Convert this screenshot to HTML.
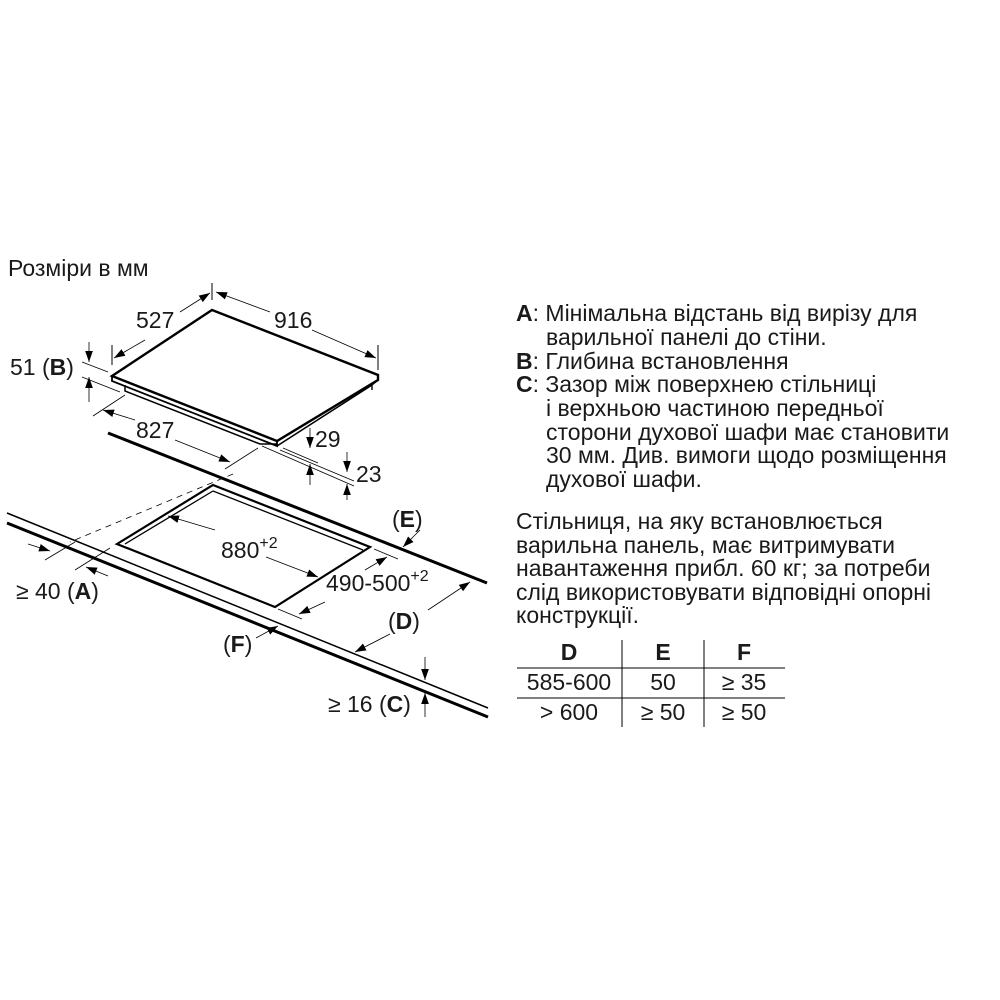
<!DOCTYPE html>
<html><head><meta charset="utf-8"><style>
body{margin:0;background:#fff;}
svg{display:block}
text{font-family:"Liberation Sans",sans-serif;fill:#1a1a1a}
</style></head><body>
<svg width="1000" height="1000" viewBox="0 0 1000 1000" xmlns="http://www.w3.org/2000/svg">
<defs>
<marker id="a" viewBox="0 0 10 10" refX="10" refY="5" markerWidth="11" markerHeight="11" orient="auto-start-reverse" markerUnits="userSpaceOnUse"><path d="M0,1.5 L10,5 L0,8.5 z" fill="#000"/></marker>
</defs>
<g stroke="#000" fill="none">
<path d="M212,310 L378,375 L378,380 L277,441 L112,376 Z" stroke-width="2.4" fill="#fff"/>
<path d="M112,376 L112,381 L277,446 L277,441" stroke-width="1.8"/>
<path d="M277,446 L372,385" stroke-width="1.6"/>
<path d="M125,385 L125,391 L260,444 L277,444" stroke-width="1.5"/>
<path d="M378,380 L372,385 L372,390" stroke-width="1.4"/>
<line x1="212" y1="283" x2="212" y2="300" stroke-width="1"/>
<line x1="112" y1="345" x2="112" y2="365" stroke-width="1"/>
<line x1="378" y1="345" x2="378" y2="370" stroke-width="1"/>
<line x1="180" y1="312" x2="210" y2="293" stroke-width="0.8" marker-end="url(#a)"/>
<line x1="145" y1="340" x2="114" y2="358" stroke-width="0.8" marker-end="url(#a)"/>
<line x1="270" y1="312" x2="216" y2="292" stroke-width="0.8" marker-end="url(#a)"/>
<line x1="312" y1="330" x2="376" y2="358" stroke-width="0.8" marker-end="url(#a)"/>
<line x1="82" y1="362" x2="108" y2="372" stroke-width="0.8"/>
<line x1="82" y1="377" x2="120" y2="392" stroke-width="0.8"/>
<line x1="89" y1="342" x2="89" y2="362" stroke-width="0.8" marker-end="url(#a)"/>
<line x1="89" y1="402" x2="89" y2="377" stroke-width="0.8" marker-end="url(#a)"/>
<line x1="93" y1="416" x2="125" y2="395" stroke-width="0.8"/>
<line x1="225" y1="469" x2="258" y2="448" stroke-width="0.8"/>
<line x1="135" y1="420" x2="103" y2="410" stroke-width="0.8" marker-end="url(#a)"/>
<line x1="175" y1="440" x2="230" y2="462" stroke-width="0.8" marker-end="url(#a)"/>
<line x1="283" y1="448" x2="318" y2="463" stroke-width="0.8"/>
<line x1="262" y1="446" x2="354" y2="486" stroke-width="0.8"/>
<line x1="280" y1="450" x2="354" y2="481" stroke-width="0.8"/>
<line x1="310" y1="428" x2="310" y2="448" stroke-width="0.8" marker-end="url(#a)"/>
<line x1="310" y1="485" x2="310" y2="464" stroke-width="0.8" marker-end="url(#a)"/>
<line x1="347" y1="452" x2="347" y2="472" stroke-width="0.8" marker-end="url(#a)"/>
<line x1="347" y1="500" x2="347" y2="484" stroke-width="0.8" marker-end="url(#a)"/>
<line x1="108" y1="433" x2="487" y2="583" stroke-width="3"/>
<line x1="7" y1="513" x2="488" y2="708" stroke-width="1.5"/>
<line x1="7" y1="523" x2="488" y2="717" stroke-width="3"/>
<line x1="233" y1="474" x2="70" y2="542" stroke-width="0.8" stroke-dasharray="6,5"/>
<path d="M213,485 L370,547 L275,607 L117,544 Z" stroke-width="2.2"/>
<path d="M213,491 L125,544" stroke-width="1.3"/>
<path d="M213,491 L363,550" stroke-width="1.3"/>
<line x1="215" y1="530" x2="168" y2="516" stroke-width="0.8" marker-end="url(#a)"/>
<line x1="266" y1="557" x2="318" y2="577" stroke-width="0.8" marker-end="url(#a)"/>
<line x1="374" y1="549" x2="398" y2="559" stroke-width="0.8"/>
<line x1="278" y1="609" x2="302" y2="619" stroke-width="0.8"/>
<line x1="365" y1="570" x2="387" y2="557" stroke-width="0.8" marker-end="url(#a)"/>
<line x1="325" y1="602" x2="299" y2="614" stroke-width="0.8" marker-end="url(#a)"/>
<line x1="45" y1="560" x2="75" y2="542" stroke-width="0.8"/>
<line x1="75" y1="570" x2="110" y2="548" stroke-width="0.8"/>
<line x1="28" y1="544" x2="50" y2="551" stroke-width="0.8" marker-end="url(#a)"/>
<line x1="108" y1="576" x2="86" y2="567" stroke-width="0.8" marker-end="url(#a)"/>
<line x1="420" y1="530" x2="403" y2="547" stroke-width="0.8" marker-end="url(#a)"/>
<line x1="256" y1="638" x2="278" y2="626" stroke-width="0.8" marker-end="url(#a)"/>
<line x1="428" y1="610" x2="470" y2="582" stroke-width="0.8" marker-end="url(#a)"/>
<line x1="390" y1="634" x2="355" y2="652" stroke-width="0.8" marker-end="url(#a)"/>
<line x1="425" y1="657" x2="425" y2="680" stroke-width="0.8" marker-end="url(#a)"/>
<line x1="425" y1="717" x2="425" y2="693" stroke-width="0.8" marker-end="url(#a)"/>
<line x1="517" y1="668" x2="785" y2="668" stroke-width="1"/>
<line x1="517" y1="698" x2="785" y2="698" stroke-width="1"/>
<line x1="622" y1="640" x2="622" y2="727" stroke-width="1"/>
<line x1="704" y1="640" x2="704" y2="727" stroke-width="1"/>
</g>
<g font-size="23">
<text x="8" y="276">Розміри в мм</text>
<text x="136" y="328">527</text>
<text x="274" y="328">916</text>
<text x="10" y="375">51 (<tspan font-weight="bold">B</tspan>)</text>
<text x="136" y="438">827</text>
<text x="315" y="447">29</text>
<text x="356" y="482">23</text>
<text x="221" y="558">880<tspan font-size="16" dy="-10">+2</tspan></text>
<text x="326" y="591">490-500<tspan font-size="16" dy="-10">+2</tspan></text>
<text x="392" y="527">(<tspan font-weight="bold">E</tspan>)</text>
<text x="16" y="599">≥ 40 (<tspan font-weight="bold">A</tspan>)</text>
<text x="223" y="652">(<tspan font-weight="bold">F</tspan>)</text>
<text x="388" y="629">(<tspan font-weight="bold">D</tspan>)</text>
<text x="328" y="712">≥ 16 (<tspan font-weight="bold">C</tspan>)</text>

<text x="516" y="321"><tspan font-weight="bold">A</tspan>: Мінімальна відстань від вирізу для</text>
<text x="546" y="345">варильної панелі до стіни.</text>
<text x="516" y="369"><tspan font-weight="bold">B</tspan>: Глибина встановлення</text>
<text x="516" y="392"><tspan font-weight="bold">C</tspan>: Зазор між поверхнею стільниці</text>
<text x="546" y="416">і верхньою частиною передньої</text>
<text x="546" y="440">сторони духової шафи має становити</text>
<text x="546" y="463">30 мм. Див. вимоги щодо розміщення</text>
<text x="546" y="487">духової шафи.</text>
<text x="516" y="529">Стільниця, на яку встановлюється</text>
<text x="516" y="553">варильна панель, має витримувати</text>
<text x="516" y="576">навантаження прибл. 60 кг; за потреби</text>
<text x="516" y="600">слід використовувати відповідні опорні</text>
<text x="516" y="623">конструкції.</text>
<g text-anchor="middle">
<text x="569" y="660" font-weight="bold">D</text>
<text x="663" y="660" font-weight="bold">E</text>
<text x="744" y="660" font-weight="bold">F</text>
<text x="569" y="690">585-600</text>
<text x="663" y="690">50</text>
<text x="744" y="690">≥ 35</text>
<text x="569" y="720">&gt; 600</text>
<text x="663" y="720">≥ 50</text>
<text x="744" y="720">≥ 50</text>
</g>
</g>
</svg>
</body></html>
